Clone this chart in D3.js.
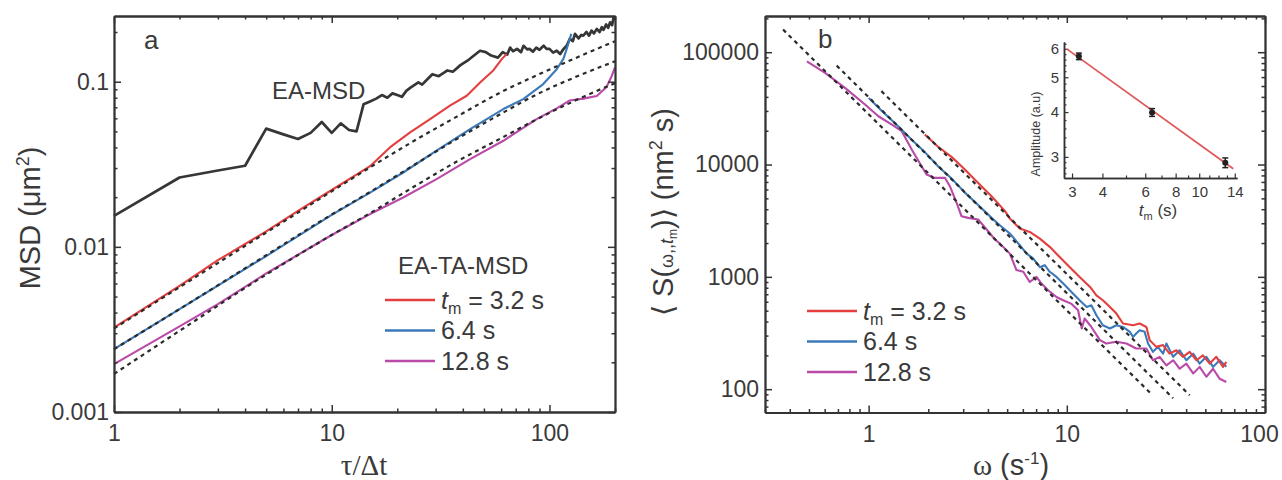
<!DOCTYPE html>
<html lang="en">
<head>
<meta charset="utf-8">
<title>EA-MSD and spectra</title>
<script src="https://cdn.jsdelivr.net/npm/d3@7"></script>
<style>
  body { margin: 0; background: #fff; }
  text { font-family: "Liberation Sans", Arial, sans-serif; fill: #3a3a3a; }
  .axis path.domain { stroke: #333; stroke-width: 1.8; }
  .axis line { stroke: #333; stroke-width: 1.5; }
  .axis text { font-size: 23px; fill: #3a3a3a; font-family: "Liberation Sans", Arial, sans-serif; }
  .inset .axis text { font-size: 15px; }
  .inset .axis path.domain { stroke-width: 1.5; }
  .inset .axis line { stroke-width: 1.2; }
  .curve { fill: none; stroke-width: 2.1; stroke-linejoin: round; }
  .curve.ea { stroke-width: 2.7; }
  .fit { fill: none; stroke: #2b2b2b; stroke-width: 2.2; stroke-dasharray: 4 4; }
  .title { font-size: 29px; }
  .lab { font-size: 24px; }
  .leg { font-size: 25px; }
</style>
</head>
<body>
<script>
// ---------- panel a : MSD vs tau/dt ----------
const eaTau = [1, 2, 3, 4, 5, 6, 7, 8, 9, 10, 11, 12, 13, 14, 15, 16, 17, 18, 19, 20, 21, 22, 23,
  25, 26, 28, 29, 31, 34, 36, 39, 42, 45, 48, 51, 54, 58, 61, 64, 66, 68, 71, 74, 76, 79, 81, 84,
  87, 90, 94, 97, 100, 104, 108, 112, 116, 120, 124, 128, 131, 136, 140, 143, 148, 152, 156, 160,
  165, 170, 174, 177, 182, 186, 190, 194, 197, 200];
const eaMsd = [0.0154, 0.0263, 0.029, 0.031, 0.052, 0.048, 0.045, 0.049, 0.057, 0.049, 0.056, 0.051,
  0.050, 0.073, 0.076, 0.079, 0.083, 0.080, 0.085, 0.083, 0.081, 0.088, 0.092, 0.099, 0.096, 0.106,
  0.111, 0.108, 0.117, 0.115, 0.126, 0.134, 0.144, 0.154, 0.151, 0.144, 0.140, 0.151, 0.146, 0.161,
  0.153, 0.158, 0.151, 0.165, 0.157, 0.158, 0.152, 0.161, 0.156, 0.165, 0.158, 0.158, 0.150, 0.154,
  0.147, 0.158, 0.165, 0.182, 0.176, 0.195, 0.183, 0.192, 0.190, 0.200, 0.190, 0.204, 0.196, 0.209,
  0.200, 0.214, 0.206, 0.222, 0.212, 0.229, 0.220, 0.245, 0.235];

const msd32Tau = [1, 2, 3, 5, 7, 10, 12.5, 15, 18.5, 22.9, 28.3, 34.9, 41.7, 48, 55.2, 60.4, 63.6];
const msd32 = [0.00324, 0.0058, 0.0083, 0.0124, 0.0165, 0.0221, 0.0265, 0.0308, 0.040, 0.0493,
  0.0594, 0.0716, 0.0822, 0.099, 0.117, 0.137, 0.147];
const msd64Tau = [1, 2, 5, 10, 15, 21.3, 30.3, 43.2, 61.4, 75.8, 93.6, 108, 116, 120, 126];
const msd64 = [0.0024, 0.0042, 0.0088, 0.0156, 0.0213, 0.0282, 0.0382, 0.0516, 0.0683, 0.0785,
  0.0968, 0.119, 0.138, 0.158, 0.195];
const msd128Tau = [1, 2, 3, 5, 10, 15, 21.3, 30.3, 43.2, 61.4, 87.3, 108, 124, 143, 165, 183, 193, 200];
const msd128 = [0.00195, 0.0033, 0.0045, 0.0069, 0.0118, 0.0158, 0.0199, 0.0257, 0.034, 0.0439,
  0.0594, 0.069, 0.077, 0.079, 0.082, 0.093, 0.108, 0.122];

// dashed fits
const fitTau = [1, 2, 5, 10, 15, 25, 37, 60, 87, 130, 200];
const fit32 = [0.0032, 0.0057, 0.0122, 0.0217, 0.0303, 0.0454, 0.0608, 0.0865, 0.109, 0.138, 0.176];
const fit64 = [0.0024, 0.0042, 0.0089, 0.0157, 0.0215, 0.0325, 0.0445, 0.0640, 0.0835, 0.106, 0.133];
const fit128 = [0.0017, 0.0031, 0.0068, 0.0118, 0.0160, 0.0240, 0.0325, 0.0455, 0.0590, 0.0765, 0.098];

const aXTicks = [1, 10, 100];
const aYTicks = [0.001, 0.01, 0.1];

// ---------- panel b : spectra ----------
const s32W = [1.92, 2.24, 2.62, 3.06, 3.57, 4.17, 4.88, 5.16, 5.79, 6.50, 7.31, 8.20, 9.20, 10.35,
  11.6, 13.1, 14.1, 15.2, 16.5, 17.8, 19.2, 21.6, 23.3, 25.2, 26.2, 28.3, 30.6, 33.0, 35.7, 38.5,
  41.7, 45.1, 48.6, 52.6, 56.8, 61.4, 63.8];
const s32 = [18500, 14400, 11700, 9020, 6850, 5220, 3850, 3300, 2690, 2510, 2190, 1850, 1500, 1220,
  998, 813, 685, 619, 540, 471, 384, 371, 384, 358, 273, 238, 247, 207, 222, 194, 215, 181, 200,
  169, 194, 158, 175];
const s64W = [1.00, 1.16, 1.41, 1.65, 1.92, 2.24, 2.62, 3.06, 3.57, 4.17, 4.59, 5.16, 5.79, 6.27,
  6.76, 7.31, 7.74, 8.20, 8.87, 9.59, 10.35, 11.6, 12.6, 13.3, 14.1, 15.2, 16.5, 17.8, 19.2, 20.8,
  21.6, 22.4, 23.3, 24.7, 25.7, 27.2, 28.8, 30.6, 31.8, 34.4, 37.1, 40.1, 43.4, 46.8, 50.6, 54.7,
  59.0, 63.8];
const s64 = [39200, 30200, 21900, 16600, 12900, 9660, 7500, 5620, 4370, 3350, 2880, 2430, 1910, 1610,
  1460, 1220, 1270, 1110, 998, 871, 760, 619, 540, 558, 455, 371, 347, 371, 358, 324, 292, 313, 335,
  324, 255, 215, 238, 207, 255, 194, 222, 181, 207, 169, 194, 158, 181, 158];
const s128W = [0.488, 0.603, 0.760, 0.959, 1.12, 1.31, 1.47, 1.65, 1.85, 1.96, 2.16, 2.43, 2.57,
  2.78, 2.94, 3.18, 3.57, 3.94, 4.34, 4.59, 5.16, 5.57, 6.03, 6.50, 7.03, 7.45, 8.05, 8.87, 9.59,
  10.5, 11.4, 11.9, 12.3, 13.3, 14.7, 15.8, 17.8, 20.0, 22.4, 25.2, 27.2, 29.4, 31.8, 34.4, 37.1,
  40.1, 43.4, 46.8, 50.6, 54.7, 59.0, 63.8];
const s128 = [83000, 65500, 48100, 34200, 26900, 22700, 19800, 13600, 9660, 8150, 7600, 7600, 6410,
  4550, 3470, 3350, 3240, 2640, 2150, 1980, 1610, 1150, 1110, 900, 998, 871, 760, 662, 619, 578,
  505, 347, 426, 358, 273, 255, 264, 255, 230, 230, 181, 194, 163, 181, 152, 169, 138, 158, 129,
  152, 124, 116];

// power-law guides (end points)
const guide32W = [1.16, 41.7], guide32 = [45000, 88.3];
const guide64W = [0.69, 34.4], guide64 = [75900, 83];
const guide128W = [0.37, 27.1], guide128 = [159000, 88.3];

const bXTicks = [1, 10, 100];
const bYTicks = [100, 1000, 10000, 100000];

// ---------- inset : amplitude vs t_m ----------
const tmVals = [3.2, 6.4, 12.8];
const ampVals = [5.72, 3.99, 2.89];
const ampErr = [0.12, 0.1, 0.09];
const ampFitTm = [2.85, 13.8], ampFit = [6.0, 2.78];
const inXTicks = [3, 4, 6, 8, 10, 14];
const inXMinor = [5, 7, 9, 11, 12, 13];
const inYTicks = [3, 4, 5, 6];
const inYMinor = [2.7, 2.8, 2.9, 3.2, 3.4, 3.6, 3.8, 4.2, 4.4, 4.6, 4.8, 5.2, 5.4, 5.6, 5.8, 6.2];

const seriesLabels = ["3.2 s", "6.4 s", "12.8 s"];
const colors = ["#e43f3f", "#3a79ba", "#b94aa8"];

// ---------- drawing ----------
const svg = d3.select("body").append("svg").attr("width", 1282).attr("height", 480);

const xA = d3.scaleLog().domain([1, 200]).range([114, 615]);
const yA = d3.scaleLog().domain([0.001, 0.25]).range([412, 16]);
const xB = d3.scaleLog().domain([0.3, 100]).range([765, 1265]);
const yB = d3.scaleLog().domain([62, 210000]).range([412.5, 16]);
const xI = d3.scaleLog().domain([2.78, 14.3]).range([1064, 1237]);
const yI = d3.scaleLog().domain([2.62, 6.27]).range([178, 42]);

function minorsOf(scale, majors) {
  return scale.ticks().filter(v => !majors.some(m => Math.abs(v / m - 1) < 1e-6));
}

function boxAxes(x, y, xMajor, yMajor, xPad, yPad, yFmt) {
  const g = svg.append("g");
  const [x0, x1] = x.range(), [y0, y1] = y.range();
  const xMin = minorsOf(x, xMajor), yMin = minorsOf(y, yMajor);
  const add = (axis, tr) => g.append("g").attr("class", "axis").attr("transform", tr).call(axis);

  add(d3.axisBottom(x).tickValues(xMin).tickFormat("").tickSizeInner(-3.5).tickSizeOuter(0), `translate(0,${y0})`);
  const bottom = add(d3.axisBottom(x).tickValues(xMajor).tickFormat(d3.format("d")).tickSizeInner(-7).tickSizeOuter(0).tickPadding(xPad), `translate(0,${y0})`);
  add(d3.axisTop(x).tickValues(xMin).tickFormat("").tickSizeInner(-3.5).tickSizeOuter(0), `translate(0,${y1})`);
  add(d3.axisTop(x).tickValues(xMajor).tickFormat("").tickSizeInner(-7).tickSizeOuter(0), `translate(0,${y1})`);
  add(d3.axisLeft(y).tickValues(yMin).tickFormat("").tickSizeInner(-3.5).tickSizeOuter(0), `translate(${x0},0)`);
  add(d3.axisLeft(y).tickValues(yMajor).tickFormat(yFmt).tickSizeInner(-7).tickSizeOuter(0).tickPadding(yPad), `translate(${x0},0)`);
  add(d3.axisRight(y).tickValues(yMin).tickFormat("").tickSizeInner(-3.5).tickSizeOuter(0), `translate(${x1},0)`);
  add(d3.axisRight(y).tickValues(yMajor).tickFormat("").tickSizeInner(-7).tickSizeOuter(0), `translate(${x1},0)`);
  return bottom;
}

function plotLine(x, y, xs, ys, cls, color, curve) {
  const line = d3.line().x(d => x(d[0])).y(d => y(d[1])).curve(curve || d3.curveLinear);
  const p = svg.append("path").attr("class", cls).attr("d", line(d3.zip(xs, ys)));
  if (color) p.attr("stroke", color);
  return p;
}

// panel a
plotLine(xA, yA, eaTau, eaMsd, "curve ea", "#363636");
plotLine(xA, yA, msd32Tau, msd32, "curve", colors[0]);
plotLine(xA, yA, msd64Tau, msd64, "curve", colors[1]);
plotLine(xA, yA, msd128Tau, msd128, "curve", colors[2]);
[fit32, fit64, fit128].forEach(f => plotLine(xA, yA, fitTau, f, "fit", null, d3.curveMonotoneX));
boxAxes(xA, yA, aXTicks, aYTicks, 13, 5, d3.format("~g"));

// panel b
plotLine(xB, yB, s128W, s128, "curve", colors[2]);
plotLine(xB, yB, s64W, s64, "curve", colors[1]);
plotLine(xB, yB, s32W, s32, "curve", colors[0]);
plotLine(xB, yB, guide32W, guide32, "fit");
plotLine(xB, yB, guide64W, guide64, "fit");
plotLine(xB, yB, guide128W, guide128, "fit");
const bottomB = boxAxes(xB, yB, bXTicks, bYTicks, 13, 6, d3.format("d"));
// keep the last label inside the picture
bottomB.selectAll(".tick text").filter(d => d === 100).attr("dx", -6);

// inset
const inset = svg.append("g").attr("class", "inset");
inset.append("g").attr("class", "axis").attr("transform", "translate(0,178)")
  .call(d3.axisBottom(xI).tickValues(inXMinor).tickFormat("").tickSizeInner(-2.5).tickSizeOuter(0));
inset.append("g").attr("class", "axis").attr("transform", "translate(0,178)")
  .call(d3.axisBottom(xI).tickValues(inXTicks).tickFormat(d3.format("d")).tickSizeInner(-4.5).tickSizeOuter(0).tickPadding(8));
inset.append("g").attr("class", "axis").attr("transform", "translate(1064,0)")
  .call(d3.axisLeft(yI).tickValues(inYMinor).tickFormat("").tickSizeInner(-2.5).tickSizeOuter(0));
inset.append("g").attr("class", "axis").attr("transform", "translate(1064,0)")
  .call(d3.axisLeft(yI).tickValues(inYTicks).tickFormat(d3.format("d")).tickSizeInner(-4.5).tickSizeOuter(0).tickPadding(5));

inset.append("path").attr("fill", "none").attr("stroke", "#e05a5a").attr("stroke-width", 1.8)
  .attr("d", d3.line().x(d => xI(d[0])).y(d => yI(d[1]))(d3.zip(ampFitTm, ampFit)));
const pts = inset.selectAll(".pt").data(d3.zip(tmVals, ampVals, ampErr)).enter().append("g");
pts.append("line").attr("x1", d => xI(d[0])).attr("x2", d => xI(d[0]))
  .attr("y1", d => yI(d[1] - d[2])).attr("y2", d => yI(d[1] + d[2]))
  .attr("stroke", "#222").attr("stroke-width", 1.5);
pts.append("line").attr("x1", d => xI(d[0]) - 3).attr("x2", d => xI(d[0]) + 3)
  .attr("y1", d => yI(d[1] - d[2])).attr("y2", d => yI(d[1] - d[2])).attr("stroke", "#222").attr("stroke-width", 1.5);
pts.append("line").attr("x1", d => xI(d[0]) - 3).attr("x2", d => xI(d[0]) + 3)
  .attr("y1", d => yI(d[1] + d[2])).attr("y2", d => yI(d[1] + d[2])).attr("stroke", "#222").attr("stroke-width", 1.5);
pts.append("circle").attr("cx", d => xI(d[0])).attr("cy", d => yI(d[1])).attr("r", 3).attr("fill", "#222");

inset.append("text").attr("transform", "translate(1040,134) rotate(-90)").attr("text-anchor", "middle")
  .style("font-size", "12.5px").text("Amplitude (a.u)");
const tmLab = inset.append("text").attr("x", 1158).attr("y", 216).attr("text-anchor", "middle").style("font-size", "17px");
tmLab.append("tspan").attr("font-style", "italic").text("t");
tmLab.append("tspan").attr("font-size", "11px").attr("dy", 4).text("m");
tmLab.append("tspan").attr("dy", -4).text(" (s)");

// titles and labels
svg.append("text").attr("class", "lab").attr("x", 144).attr("y", 49).style("font-size", "26px").text("a");
svg.append("text").attr("class", "lab").attr("x", 818).attr("y", 48).style("font-size", "26px").text("b");
svg.append("text").attr("class", "lab").attr("x", 272).attr("y", 99).text("EA-MSD");
svg.append("text").attr("class", "lab").attr("x", 398).attr("y", 274).text("EA-TA-MSD");

const yTitleA = svg.append("text").attr("class", "title").attr("text-anchor", "middle")
  .attr("transform", "translate(40,218) rotate(-90)");
yTitleA.append("tspan").text("MSD (μm");
yTitleA.append("tspan").attr("font-size", "18px").attr("dy", -11).text("2");
yTitleA.append("tspan").attr("dy", 11).text(")");

svg.append("text").attr("class", "title").attr("x", 364).attr("y", 475).attr("text-anchor", "middle")
  .style("font-family", "'Liberation Serif', serif").text("τ/Δt");

const yTitleB = svg.append("text").attr("class", "title").attr("text-anchor", "middle")
  .attr("transform", "translate(673,212) rotate(-90)");
yTitleB.append("tspan").text("⟨ S(");
yTitleB.append("tspan").attr("font-size", "18px").text("ω,,");
yTitleB.append("tspan").attr("font-size", "18px").attr("font-style", "italic").text("t");
yTitleB.append("tspan").attr("font-size", "12px").attr("dy", 4).text("m");
yTitleB.append("tspan").attr("dy", -4).text(")⟩ (nm");
yTitleB.append("tspan").attr("font-size", "18px").attr("dy", -11).text("2");
yTitleB.append("tspan").attr("dy", 11).text(" s)");

const xTitleB = svg.append("text").attr("class", "title").attr("x", 1011).attr("y", 475).attr("text-anchor", "middle");
xTitleB.append("tspan").style("font-family", "'Liberation Serif', serif").text("ω");
xTitleB.append("tspan").text(" (s");
xTitleB.append("tspan").attr("font-size", "17px").attr("dy", -11).text("-1");
xTitleB.append("tspan").attr("dy", 11).text(")");

// legends
function legend(x0, y0) {
  seriesLabels.forEach((lab, i) => {
    const y = y0 + i * 30.5;
    svg.append("line").attr("x1", x0).attr("x2", x0 + 50).attr("y1", y).attr("y2", y)
      .attr("stroke", colors[i]).attr("stroke-width", 2.4);
    const t = svg.append("text").attr("class", "leg").attr("x", x0 + 56).attr("y", y + 8.5);
    if (i === 0) {
      t.append("tspan").attr("font-style", "italic").text("t");
      t.append("tspan").attr("font-size", "16px").attr("dy", 5).text("m");
      t.append("tspan").attr("dy", -5).text(" = " + lab);
    } else {
      t.text(lab);
    }
  });
}
legend(385, 300);
legend(807, 311);
</script>
</body>
</html>
